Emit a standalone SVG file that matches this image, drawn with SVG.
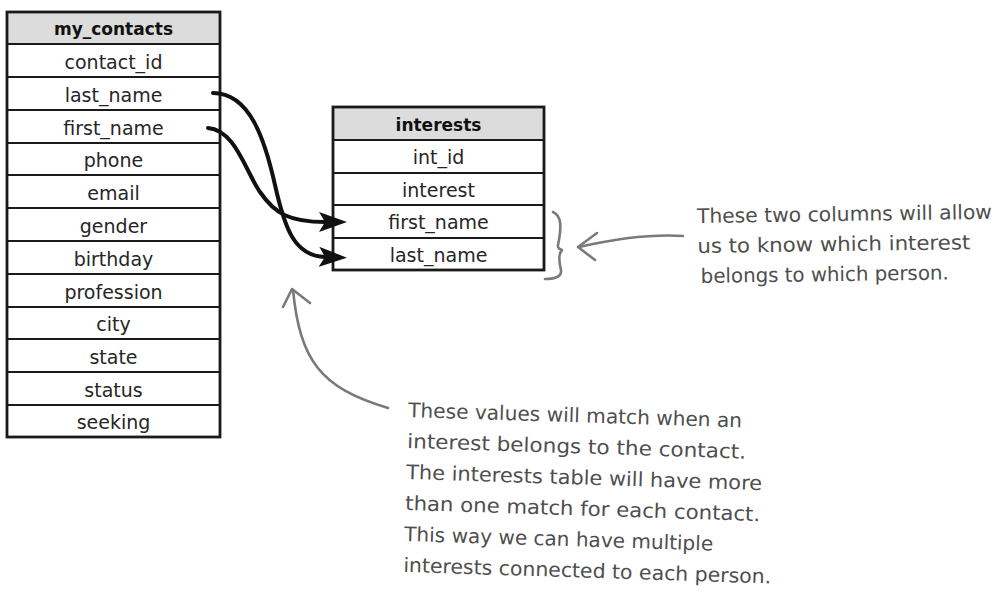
<svg xmlns="http://www.w3.org/2000/svg" width="997" height="598" viewBox="0 0 997 598">
<style>
.hdr{fill:#dcdcdc;stroke:none}
.frame{fill:none;stroke:#1a1a1a;stroke-width:2.8}
.rowline{stroke:#1a1a1a;stroke-width:2.2}
.cell{font-family:"DejaVu Sans",sans-serif;font-size:19px;fill:#262626;text-anchor:middle}
.title{font-family:"DejaVu Sans",sans-serif;font-size:17px;font-weight:bold;fill:#111;text-anchor:middle}
.conn{fill:none;stroke:#111;stroke-width:4;stroke-linecap:round}
.note{fill:none;stroke:#7a7a7a;stroke-width:2.6;stroke-linecap:round;stroke-linejoin:round}
.ann{font-family:"DejaVu Sans",sans-serif;font-size:20px;fill:#4e4e4e}
</style>
<defs>
<marker id="ah" markerUnits="userSpaceOnUse" markerWidth="32" markerHeight="24" refX="6" refY="10" orient="auto">
<path d="M0,0 L28,10 L0,20 L6,10 z" fill="#111"/>
</marker>
</defs>
<rect width="997" height="598" fill="#fff"/>

<g id="my_contacts">
<rect class="hdr" x="7" y="12" width="213" height="32"/>
<rect class="frame" x="7" y="12" width="213" height="425"/>
<line class="rowline" x1="7" y1="44" x2="220" y2="44"/>
<line class="rowline" x1="7" y1="77" x2="220" y2="77"/>
<line class="rowline" x1="7" y1="110" x2="220" y2="110"/>
<line class="rowline" x1="7" y1="143" x2="220" y2="143"/>
<line class="rowline" x1="7" y1="175" x2="220" y2="175"/>
<line class="rowline" x1="7" y1="208" x2="220" y2="208"/>
<line class="rowline" x1="7" y1="241" x2="220" y2="241"/>
<line class="rowline" x1="7" y1="274" x2="220" y2="274"/>
<line class="rowline" x1="7" y1="307" x2="220" y2="307"/>
<line class="rowline" x1="7" y1="339" x2="220" y2="339"/>
<line class="rowline" x1="7" y1="372" x2="220" y2="372"/>
<line class="rowline" x1="7" y1="405" x2="220" y2="405"/>
<text class="title" x="113.5" y="35">my_contacts</text>
<text class="cell" x="113.5" y="69">contact_id</text>
<text class="cell" x="113.5" y="102">last_name</text>
<text class="cell" x="113.5" y="135">first_name</text>
<text class="cell" x="113.5" y="167">phone</text>
<text class="cell" x="113.5" y="200">email</text>
<text class="cell" x="113.5" y="233">gender</text>
<text class="cell" x="113.5" y="266">birthday</text>
<text class="cell" x="113.5" y="299">profession</text>
<text class="cell" x="113.5" y="331">city</text>
<text class="cell" x="113.5" y="364">state</text>
<text class="cell" x="113.5" y="397">status</text>
<text class="cell" x="113.5" y="429">seeking</text>
</g>

<g id="interests">
<rect class="hdr" x="333" y="107" width="211" height="33"/>
<rect class="frame" x="333" y="107" width="211" height="163"/>
<line class="rowline" x1="333" y1="140" x2="544" y2="140"/>
<line class="rowline" x1="333" y1="173" x2="544" y2="173"/>
<line class="rowline" x1="333" y1="205" x2="544" y2="205"/>
<line class="rowline" x1="333" y1="238" x2="544" y2="238"/>
<text class="title" x="438.5" y="131">interests</text>
<text class="cell" x="438.5" y="164">int_id</text>
<text class="cell" x="438.5" y="197">interest</text>
<text class="cell" x="438.5" y="229">first_name</text>
<text class="cell" x="438.5" y="262">last_name</text>
</g>

<g id="connectors">
<path class="conn" d="M213,93 C250,93 265,140 275,185 C285,230 295,256 325,257" marker-end="url(#ah)"/>
<path class="conn" d="M208,128 C235,130 245,170 260,192 C275,214 290,222 325,222" marker-end="url(#ah)"/>
</g>

<g id="note-columns">
<path class="note" d="M553,212 C562,216 561,228 559,240 C558,246 556,248 562,250 C558,254 559,262 561,270 C562,278 552,279 545,279"/>
<path class="note" d="M683,236 C650,234 610,240 579,247"/>
<path class="note" d="M597,233 L578,247 L595,260"/>
<g transform="rotate(-0.8 697 223)">
<text class="ann" x="697" y="223" textLength="295" lengthAdjust="spacingAndGlyphs">These two columns will allow</text>
<text class="ann" x="697" y="253" textLength="273" lengthAdjust="spacingAndGlyphs">us to know which interest</text>
<text class="ann" x="700" y="283" textLength="248" lengthAdjust="spacingAndGlyphs">belongs to which person.</text>
</g>
</g>

<g id="note-values">
<path class="note" d="M388,408 C320,388 300,360 293,290"/>
<path class="note" d="M283,307 L292,289 L310,303"/>
<g transform="rotate(1.8 408 417)">
<text class="ann" x="408" y="417" textLength="334" lengthAdjust="spacingAndGlyphs">These values will match when an</text>
<text class="ann" x="408" y="448" textLength="339" lengthAdjust="spacingAndGlyphs">interest belongs to the contact.</text>
<text class="ann" x="408" y="479" textLength="356" lengthAdjust="spacingAndGlyphs">The interests table will have more</text>
<text class="ann" x="408" y="510" textLength="355" lengthAdjust="spacingAndGlyphs">than one match for each contact.</text>
<text class="ann" x="408" y="541" textLength="309" lengthAdjust="spacingAndGlyphs">This way we can have multiple</text>
<text class="ann" x="408" y="572" textLength="368" lengthAdjust="spacingAndGlyphs">interests connected to each person.</text>
</g>
</g>
</svg>
